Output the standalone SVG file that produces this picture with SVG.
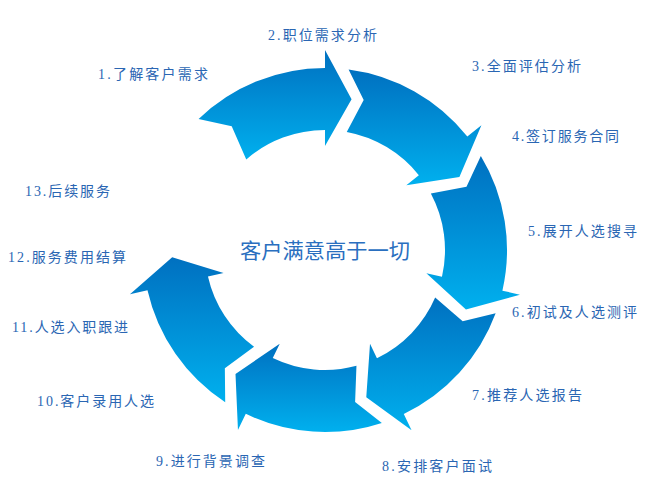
<svg xmlns="http://www.w3.org/2000/svg" xmlns:xlink="http://www.w3.org/1999/xlink" width="661" height="500" viewBox="0 0 661 500">
<style>
.lbl{font-family:"Liberation Serif","Noto Sans CJK SC",serif;font-size:14px;fill:#2a66b3;}
.ctr{font-family:"Noto Sans CJK SC","Noto Sans",sans-serif;font-size:21px;fill:#2a6fbf;}
</style>
<defs>
<path id="arrow" d="M507,250 A182,182 0 0 1 455.92,376.43 L468.87,388.93 L414.93,373.78 L399.81,322.24 L411.32,333.36 A120,120 0 0 0 444.84,256.28 L478.85,268.89 Z"/>
<linearGradient id="g1" gradientUnits="userSpaceOnUse" x1="325" y1="50" x2="325" y2="160" gradientTransform="rotate(134 325 250)"><stop offset="0" stop-color="#0070c0"/><stop offset="1" stop-color="#00b0ee"/></linearGradient>
<linearGradient id="g2" gradientUnits="userSpaceOnUse" x1="325" y1="69" x2="325" y2="185" gradientTransform="rotate(82.55 325 250)"><stop offset="0" stop-color="#0070c0"/><stop offset="1" stop-color="#00b0ee"/></linearGradient>
<linearGradient id="g3" gradientUnits="userSpaceOnUse" x1="325" y1="156" x2="325" y2="310" gradientTransform="rotate(31.1 325 250)"><stop offset="0" stop-color="#0070c0"/><stop offset="1" stop-color="#00b0ee"/></linearGradient>
<linearGradient id="g4" gradientUnits="userSpaceOnUse" x1="325" y1="297" x2="325" y2="430" gradientTransform="rotate(-20.35 325 250)"><stop offset="0" stop-color="#0070c0"/><stop offset="1" stop-color="#00b0ee"/></linearGradient>
<linearGradient id="g5" gradientUnits="userSpaceOnUse" x1="325" y1="343" x2="325" y2="432" gradientTransform="rotate(-71.8 325 250)"><stop offset="0" stop-color="#0070c0"/><stop offset="1" stop-color="#00b0ee"/></linearGradient>
<linearGradient id="g6" gradientUnits="userSpaceOnUse" x1="325" y1="257" x2="325" y2="402" gradientTransform="rotate(-123.25 325 250)"><stop offset="0" stop-color="#0070c0"/><stop offset="1" stop-color="#00b0ee"/></linearGradient>
</defs>
<g id="connectors">
<use id="arrow1" xlink:href="#arrow" href="#arrow" transform="rotate(-134 325 250)" fill="url(#g1)"/>
<use id="arrow2" xlink:href="#arrow" href="#arrow" transform="rotate(-82.55 325 250)" fill="url(#g2)"/>
<use id="arrow3" xlink:href="#arrow" href="#arrow" transform="rotate(-31.1 325 250)" fill="url(#g3)"/>
<use id="arrow4" xlink:href="#arrow" href="#arrow" transform="rotate(20.35 325 250)" fill="url(#g4)"/>
<use id="arrow5" xlink:href="#arrow" href="#arrow" transform="rotate(71.8 325 250)" fill="url(#g5)"/>
<use id="arrow6" xlink:href="#arrow" href="#arrow" transform="rotate(123.25 325 250)" fill="url(#g6)"/>
</g>
<g id="center"><text class="ctr" x="325" y="258" text-anchor="middle" textLength="170" lengthAdjust="spacingAndGlyphs">客户满意高于一切</text></g>
<g id="step1"><text class="lbl" x="98" y="78.5" textLength="110">1.了解客户需求</text></g>
<g id="step2"><text class="lbl" x="268" y="39.5" textLength="109">2.职位需求分析</text></g>
<g id="step3"><text class="lbl" x="472" y="70.5" textLength="109">3.全面评估分析</text></g>
<g id="step4"><text class="lbl" x="512" y="140.5" textLength="107">4.签订服务合同</text></g>
<g id="step5"><text class="lbl" x="528" y="235.5" textLength="109">5.展开人选搜寻</text></g>
<g id="step6"><text class="lbl" x="512" y="316.5" textLength="125">6.初试及人选测评</text></g>
<g id="step7"><text class="lbl" x="472" y="399.5" textLength="110">7.推荐人选报告</text></g>
<g id="step8"><text class="lbl" x="382" y="470.5" textLength="110">8.安排客户面试</text></g>
<g id="step9"><text class="lbl" x="156" y="465.5" textLength="109">9.进行背景调查</text></g>
<g id="step10"><text class="lbl" x="37" y="405.5" textLength="117">10.客户录用人选</text></g>
<g id="step11"><text class="lbl" x="12" y="331.5" textLength="116">11.人选入职跟进</text></g>
<g id="step12"><text class="lbl" x="8" y="261.5" textLength="118">12.服务费用结算</text></g>
<g id="step13"><text class="lbl" x="25" y="195.5" textLength="85">13.后续服务</text></g>
</svg>
